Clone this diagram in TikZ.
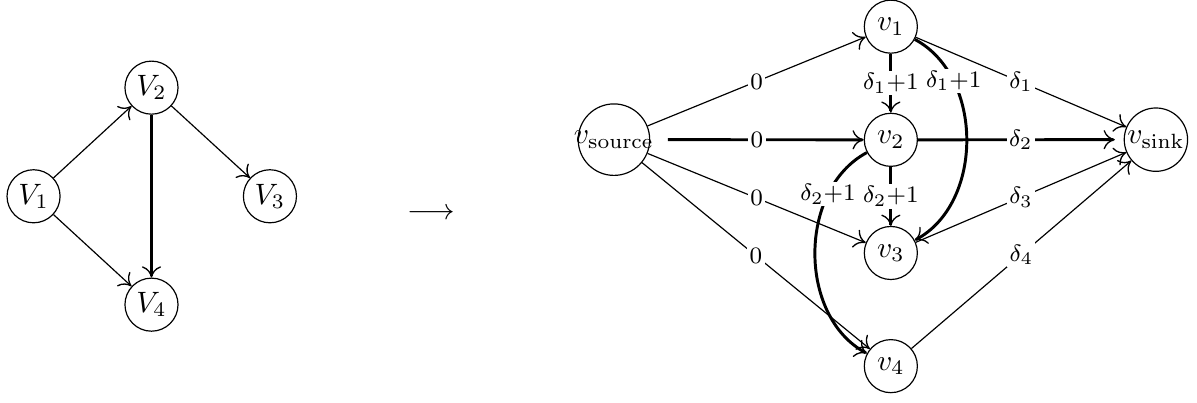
\documentclass[tikz,border=0pt]{standalone}
\usetikzlibrary{arrows.meta}

\begin{document}
\begin{tikzpicture}[>={To[length=3.8pt, width=6.5pt, line width'=0.45pt]},
    vert/.style={circle, draw, inner sep=0.5pt, minimum size=18pt},
    lab/.style={fill=white, font=\footnotesize, inner sep=0.8pt},
    heavy/.style={line width=1pt}]
    \useasboundingbox (0,0) rectangle (14.27,4.80);

    % left graph
    \node[vert] (V1) at (0.40,2.46) {$V_1$};
    \node[vert] (V2) at (1.806,3.755) {$V_2$};
    \node[vert] (V3) at (3.218,2.46) {$V_3$};
    \node[vert] (V4) at (1.806,1.168) {$V_4$};
    \draw[->] (V1) -- (V2);
    \draw[->] (V1) -- (V4);
    \draw[->] (V2) -- (V3);
    \draw[->, heavy] (V2) -- (V4);

    \node (arr) at (5.138,2.253) {$\longrightarrow$};

    % right graph
    \def\xm{10.62}
    \node[vert, inner sep=-1.5pt] (src) at (7.319,3.135) {$v_{\mathrm{source}}$};
    \node[vert] (snk) at (13.78,3.135) {$v_{\mathrm{sink}}$};
    \foreach \k in {1,2,3,4}
        \node[vert] (v\k) at (\xm,{4.482-(\k-1)*1.349}) {$v_\k$};

    \foreach \k in {1,3,4}
        \draw[->] (src) -- node[lab] {$0$} (v\k);
    \draw[->, heavy, shorten <=6pt] (src) -- node[lab] {$0$} (v2);
    \foreach \k in {1,3,4}
        \draw[->] (v\k) -- node[lab] {$\delta_\k$} (snk);
    \draw[->, heavy, shorten >=3pt] (v2) -- node[lab] {$\delta_2$} (snk);
    \draw[->, heavy] (v1) -- node[lab] {$\delta_1{+}1$} (v2);
    \draw[->, heavy] (v2) -- node[lab] {$\delta_2{+}1$} (v3);
    \draw[->, heavy] (v1) to[bend left=62] node[lab, pos=0.25] {$\delta_1{+}1$} (v3);
    \draw[->, heavy] (v2) to[bend right=62] node[lab, pos=0.25] {$\delta_2{+}1$} (v4);
\end{tikzpicture}
\end{document}
